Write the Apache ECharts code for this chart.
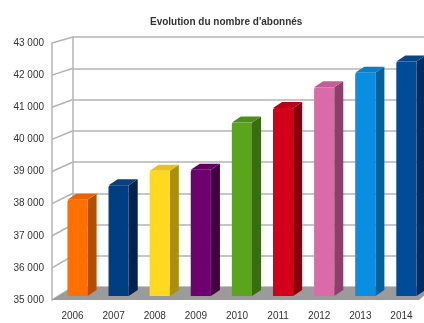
<!DOCTYPE html>
<html><head><meta charset="utf-8">
<script src="https://cdn.jsdelivr.net/npm/echarts@6/dist/echarts.min.js"></script>
<style>html,body{margin:0;padding:0;background:#fff}#c{width:424px;height:323px}</style>
</head><body><div id="c"></div>
<script>
const years = ['2006','2007','2008','2009','2010','2011','2012','2013','2014'];
const subscribers = [38000, 38450, 38900, 38930, 40400, 40850, 41500, 41950, 42300];
const frontColors = ['#ff7000','#003d82','#ffd820','#6e0070','#5ca41c','#d2001a','#d96ca8','#0a8ee2','#004c9a'];
const sideColors  = ['#b44e00','#00224c','#a98e10','#42003f','#3a6c12','#86000f','#8a4069','#06609b','#002d5e'];
const topColors   = ['#e86400','#0c3f7e','#e8c21a','#5f0060','#4f8f18','#b8001a','#c45c96','#0a7ec8','#0a4585'];
const yMin = 35000, yMax = 43000, yStep = 1000;
const titleText = "Evolution du nombre d'abonnés";
const FONT = "'Liberation Sans',Arial,sans-serif";
const GRIDC = '#b3b3b3';

function fmt(v){ return String(v).replace(/\B(?=(\d{3})+(?!\d))/g, ' '); }

function renderBar(params, api){
  const i = api.value(0), v = api.value(1);
  const base = api.coord([i, yMin]);
  const top = api.coord([i, v]);
  const band = api.size([1, 0])[0];
  const fw = band * 0.49, dx = band * 0.22, dy = -6;
  const shift = band * 0.12, lift = 4;
  const x0 = base[0] + shift - fw / 2;
  const y0 = base[1] - lift, y1 = top[1] - lift;
  const idx = params.dataIndex;
  return {
    type: 'group',
    children: [
      { type: 'polygon', shape: { points: [[x0 + fw, y1], [x0 + fw + dx, y1 + dy], [x0 + fw + dx, y0 + dy], [x0 + fw, y0]] },
        style: { fill: sideColors[idx] } },
      { type: 'polygon', shape: { points: [[x0, y1], [x0 + dx, y1 + dy], [x0 + fw + dx, y1 + dy], [x0 + fw, y1]] },
        style: { fill: topColors[idx] } },
      { type: 'rect', shape: { x: x0, y: y1, width: fw, height: y0 - y1, r: [2, 1, 0, 0] },
        style: { fill: frontColors[idx] } }
    ]
  };
}

const chart = echarts.init(document.getElementById('c'), null, { renderer: 'canvas' });
chart.setOption({
  animation: false,
  title: { text: titleText, left: 145, top: 12,
    textStyle: { fontFamily: FONT, fontSize: 10, fontWeight: 'bold', color: '#333' } },
  grid: [
    { left: 52, right: 2, top: 43, bottom: 23 },
    { left: 73, right: 0, top: 37, bottom: 36 }
  ],
  xAxis: [
    { type: 'category', gridIndex: 0, data: years, axisLine: { show: false }, axisTick: { show: false },
      axisLabel: { margin: 11, fontFamily: FONT, fontSize: 10, color: '#333' } },
    { type: 'category', gridIndex: 1, data: years, show: false }
  ],
  yAxis: [
    { type: 'value', gridIndex: 0, min: yMin, max: yMax, interval: yStep,
      axisLine: { show: true, lineStyle: { color: GRIDC, width: 1.5 } }, axisTick: { show: false },
      splitLine: { show: false },
      axisLabel: { margin: 8, formatter: fmt, fontFamily: FONT, fontSize: 10, color: '#333' } },
    { type: 'value', gridIndex: 1, min: yMin, max: yMax, interval: yStep,
      axisLine: { show: true, lineStyle: { color: GRIDC, width: 1.5 } }, axisTick: { show: false },
      axisLabel: { show: false }, splitLine: { show: true, lineStyle: { color: GRIDC, width: 1.5 } } }
  ],
  series: [
    { type: 'custom', xAxisIndex: 0, yAxisIndex: 0, z: 5,
      data: subscribers.map((v, i) => [i, v]), renderItem: renderBar }
  ]
});

// side wall depth lines and floor, placed from both axes' scales
const c0 = chart.convertToPixel({ xAxisIndex: 0 }, 0), c1 = chart.convertToPixel({ xAxisIndex: 0 }, 1);
const band0 = c1 - c0;
const frontLeft = c0 - band0 / 2;
const frontRight = chart.convertToPixel({ xAxisIndex: 0 }, years.length - 1) + band0 / 2;
const b0 = chart.convertToPixel({ xAxisIndex: 1 }, 0), b1 = chart.convertToPixel({ xAxisIndex: 1 }, 1);
const bandB = b1 - b0;
const backLeft = b0 - bandB / 2;
const backRight = chart.convertToPixel({ xAxisIndex: 1 }, years.length - 1) + bandB / 2;
const graphics = [];
for (let t = yMin; t <= yMax; t += yStep) {
  const yf = chart.convertToPixel({ yAxisIndex: 0 }, t);
  const yb = chart.convertToPixel({ yAxisIndex: 1 }, t);
  graphics.push({ type: 'line', z: 1, shape: { x1: frontLeft, y1: yf, x2: backLeft, y2: yb },
    style: { stroke: GRIDC, lineWidth: 1.5 } });
}
const yf0 = chart.convertToPixel({ yAxisIndex: 0 }, yMin);
const yb0 = chart.convertToPixel({ yAxisIndex: 1 }, yMin);
graphics.push({ type: 'polygon', z: 2,
  shape: { points: [[frontLeft, yf0], [backLeft, yb0], [backRight + 10, yb0], [frontRight - 3, yf0]] },
  style: { fill: '#9b9b9b' } });
chart.setOption({ graphic: graphics });
</script>
</body></html>
